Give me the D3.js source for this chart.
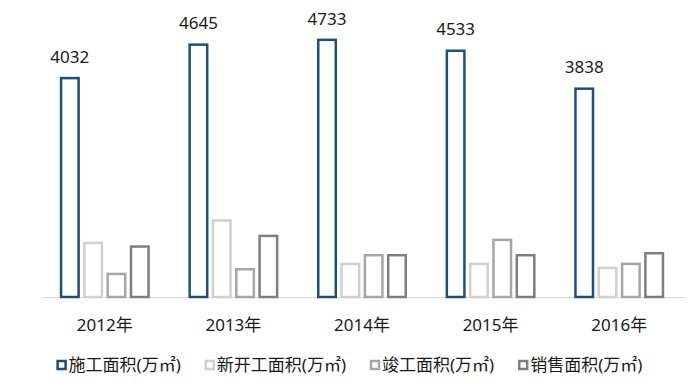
<!DOCTYPE html>
<html>
<head>
<meta charset="utf-8">
<script src="https://cdn.jsdelivr.net/npm/d3@7"></script>
<style>
  html, body { margin: 0; padding: 0; background: #fff; }
  svg { display: block; }
</style>
</head>
<body>
<svg id="chart" width="700" height="385"></svg>
<script>
const years = ["2012年", "2013年", "2014年", "2015年", "2016年"];
const seriesNames = ["施工面积(万㎡)", "新开工面积(万㎡)", "竣工面积(万㎡)", "销售面积(万㎡)"];
const construction = [4032, 4645, 4733, 4533, 3838];
const newStarts = [1013, 1424, 629, 629, 556];
const completed = [445, 531, 788, 1069, 629];
const sales = [947, 1142, 788, 788, 825];

const colors = ["#1f4e79", "#d0d0d0", "#a6a6a6", "#7f7f7f"];
const fontFamily = "'Noto Sans', 'Noto Sans CJK SC', sans-serif";

const svg = d3.select("#chart");
const baseY = 297;

const x = d3.scaleBand().domain(years).range([42, 685]);
const x1 = d3.scaleBand().domain(seriesNames).range([-45, 45]).paddingInner(0.14);
const y = d3.scaleLinear().domain([0, 5000]).range([baseY, 24]);

const allSeries = [construction, newStarts, completed, sales];
const rows = [];
years.forEach((yr, i) => {
  seriesNames.forEach((s, j) => {
    rows.push({ year: yr, series: s, idx: j, value: allSeries[j][i] });
  });
});

const sw = 2.5;

// axis line
svg.append("line")
  .attr("x1", x.range()[0]).attr("x2", x.range()[1])
  .attr("y1", baseY + 0.5).attr("y2", baseY + 0.5)
  .style("stroke", "#d9d9d9")
  .style("stroke-width", 1.2);

// bars (outlined)
svg.append("g").selectAll("rect")
  .data(rows)
  .join("rect")
  .attr("x", d => x(d.year) + x.bandwidth() / 2 - 1.5 + x1(d.series) + sw / 2)
  .attr("y", d => y(d.value) + sw / 2)
  .attr("width", x1.bandwidth() - sw)
  .attr("height", d => y(0) - y(d.value) - sw / 2)
  .style("fill", "#fff")
  .style("stroke", d => colors[d.idx])
  .style("stroke-width", sw);

// value labels on the first series
svg.append("g").selectAll("text")
  .data(rows.filter(d => d.idx === 0))
  .join("text")
  .attr("x", d => x(d.year) + x.bandwidth() / 2 - 1.5 + x1(d.series) + x1.bandwidth() / 2)
  .attr("y", d => y(d.value) - 14)
  .attr("text-anchor", "middle")
  .style("font-family", fontFamily)
  .style("font-size", "17px")
  .style("fill", "#1a1a1a")
  .text(d => d.value);

// category labels
svg.append("g").selectAll("text")
  .data(years)
  .join("text")
  .attr("x", d => x(d) + x.bandwidth() / 2 - 1.5)
  .attr("y", 331)
  .attr("text-anchor", "middle")
  .style("font-family", fontFamily)
  .style("font-size", "17px")
  .style("fill", "#1a1a1a")
  .text(d => d);

// legend
const legend = svg.append("g");
const items = legend.selectAll("g")
  .data(seriesNames)
  .join("g");

items.append("rect")
  .attr("x", 1).attr("y", -4)
  .attr("width", 8).attr("height", 8)
  .style("fill", "#fff")
  .style("stroke", (d, i) => colors[i])
  .style("stroke-width", 2.5);

items.append("text")
  .attr("x", 12)
  .attr("y", 6)
  .style("font-family", fontFamily)
  .style("font-size", "17px")
  .style("fill", "#1a1a1a")
  .text(d => d);

let pos = 0;
const widths = [];
items.each(function() {
  const w = this.getBBox().width;
  widths.push(w);
});
const gap = 25;
const total = d3.sum(widths) + gap * (widths.length - 1);
pos = 349 - total / 2;
items.attr("transform", (d, i) => {
  const t = "translate(" + (pos) + "," + 365 + ")";
  pos += widths[i] + gap;
  return t;
});
</script>
</body>
</html>
